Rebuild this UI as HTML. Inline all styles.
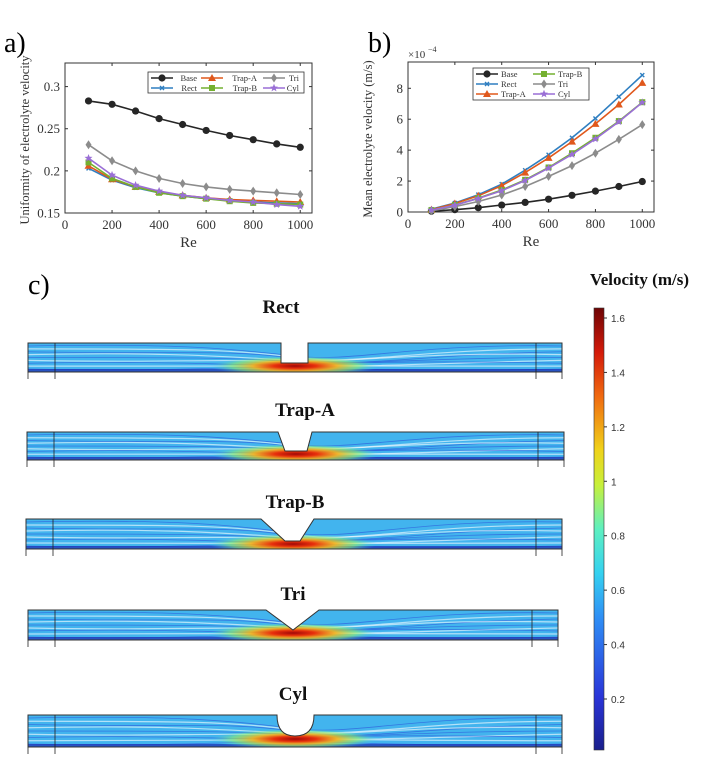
<!DOCTYPE html>
<html><head><meta charset="utf-8">
<style>
html,body{margin:0;padding:0;background:#fff;}
body{width:702px;height:770px;overflow:hidden;position:relative;font-family:"Liberation Serif",serif;}
svg{position:absolute;left:0;top:0;}
</style></head>
<body>
<svg id="root" width="702" height="770" viewBox="0 0 702 770" xmlns="http://www.w3.org/2000/svg">
<defs>
<linearGradient id="jet" x1="0" y1="1" x2="0" y2="0">
<stop offset="0" stop-color="#1a1f8c"/><stop offset="0.12" stop-color="#2a35d8"/>
<stop offset="0.3" stop-color="#2f8ff5"/><stop offset="0.4" stop-color="#35d1f0"/>
<stop offset="0.5" stop-color="#5ef0c0"/><stop offset="0.6" stop-color="#c8f03a"/>
<stop offset="0.68" stop-color="#f0d21a"/><stop offset="0.8" stop-color="#f06a10"/>
<stop offset="0.9" stop-color="#d41a0a"/><stop offset="1" stop-color="#6e0505"/>
</linearGradient>
<radialGradient id="hot">
<stop offset="0" stop-color="#a00808"/><stop offset="0.25" stop-color="#e8300c"/>
<stop offset="0.5" stop-color="#f5b21a" stop-opacity="0.9"/><stop offset="0.75" stop-color="#8ef06a" stop-opacity="0.6"/>
<stop offset="1" stop-color="#40c8f0" stop-opacity="0"/>
</radialGradient>
</defs>
<text x="4" y="52" font-size="28">a)</text>
<text x="368" y="52" font-size="28">b)</text>
<text x="28" y="294" font-size="28">c)</text>
<g id="chartA"></g>
<g id="chartB"></g>
<g id="panels"></g>
<g id="cbar"></g>
</svg>
<script>
const NS="http://www.w3.org/2000/svg";
const reValues=[100,200,300,400,500,600,700,800,900,1000];
const xTicks=[0,200,400,600,800,1000];
const seriesNames=["Base","Rect","Trap-A","Trap-B","Tri","Cyl"];
const seriesColors=["#262626","#2f7fc1","#e0581c","#74b030","#8c8c8c","#9a6fd6"];
const uniBase=[.283,.279,.271,.262,.255,.248,.242,.237,.232,.228];
const uniRect=[.203,.189,.180,.174,.170,.167,.165,.163,.162,.161];
const uniTrapA=[.206,.190,.181,.175,.171,.168,.166,.165,.164,.163];
const uniTrapB=[.210,.191,.181,.174,.170,.167,.164,.162,.161,.160];
const uniTri=[.231,.212,.200,.191,.185,.181,.178,.176,.174,.172];
const uniCyl=[.215,.195,.183,.176,.171,.168,.165,.163,.160,.158];
const uniTicks=[0.15,0.2,0.25,0.3];
const velBase=[0.05,0.15,0.28,0.45,0.62,0.83,1.08,1.35,1.65,1.97];
const velRect=[0.18,0.58,1.12,1.8,2.7,3.7,4.8,6.05,7.45,8.85];
const velTrapA=[0.15,0.55,1.05,1.7,2.55,3.5,4.55,5.7,6.95,8.35];
const velTrapB=[0.12,0.45,0.9,1.42,2.08,2.88,3.8,4.8,5.88,7.1];
const velTri=[0.08,0.35,0.68,1.1,1.65,2.3,3.0,3.8,4.7,5.65];
const velCyl=[0.12,0.44,0.87,1.38,2.04,2.84,3.72,4.72,5.84,7.08];
const velTicks=[0,2,4,6,8];
const cbTicks=[0.2,0.4,0.6,0.8,1,1.2,1.4,1.6];

function el(tag,attrs,parent,text){const e=document.createElementNS(NS,tag);for(const k in attrs)e.setAttribute(k,attrs[k]);if(text!==undefined)e.textContent=text;parent.appendChild(e);return e;}

function marker(g,type,x,y,c){
  let m;
  if(type==="Base") m=el("circle",{cx:x,cy:y,r:3.6,fill:c},g);
  else if(type==="Rect") m=el("path",{d:`M${x-2},${y-2}L${x+2},${y+2}M${x-2},${y+2}L${x+2},${y-2}`,stroke:c,"stroke-width":1.4},g);
  else if(type==="Trap-A") m=el("polygon",{points:`${x},${y-4} ${x+4},${y+3} ${x-4},${y+3}`,fill:c},g);
  else if(type==="Trap-B") m=el("rect",{x:x-3,y:y-3,width:6,height:6,fill:c},g);
  else if(type==="Tri") m=el("polygon",{points:`${x},${y-4.5} ${x+3},${y} ${x},${y+4.5} ${x-3},${y}`,fill:c},g);
  else {let p=[];for(let i=0;i<10;i++){const r=i%2?1.8:4.2,a=-Math.PI/2+i*Math.PI/5;p.push((x+r*Math.cos(a)).toFixed(1)+","+(y+r*Math.sin(a)).toFixed(1));}m=el("polygon",{points:p.join(" "),fill:c},g);}
  
  
}

function chart(g,box,ymin,ymax,yTicks,yFmt,data,ytitle){
  const sx=v=>box.l+(v/1050)*(box.r-box.l);
  const sy=v=>box.b-(v-ymin)/(ymax-ymin)*(box.b-box.t);
  const frame=el("rect",{x:box.l,y:box.t,width:box.r-box.l,height:box.b-box.t,fill:"none",stroke:"#333","stroke-width":1},g);
  
  xTicks.forEach(t=>{const x=sx(t);
    el("line",{x1:x,y1:box.b,x2:x,y2:box.b-3,stroke:"#333"},g);
    el("line",{x1:x,y1:box.t,x2:x,y2:box.t+3,stroke:"#333"},g);
    const tx=el("text",{x:x,y:box.b+16,"font-size":13,"text-anchor":"middle",fill:"#333"},g,String(t));
    });
  yTicks.forEach(t=>{const y=sy(t);
    el("line",{x1:box.l,y1:y,x2:box.l+3,y2:y,stroke:"#333"},g);
    el("line",{x1:box.r,y1:y,x2:box.r-3,y2:y,stroke:"#333"},g);
    const tx=el("text",{x:box.l-5,y:y+4.5,"font-size":13,"text-anchor":"end",fill:"#333"},g,yFmt(t));
    });
  const xt=el("text",{x:(box.l+box.r)/2,y:box.b+34,"font-size":15,"text-anchor":"middle",fill:"#333"},g,"Re");
  
  const yt=el("text",{x:0,y:0,"font-size":12.5,"text-anchor":"middle",fill:"#333",transform:`translate(${box.l-36},${(box.t+box.b)/2+2}) rotate(-90)`},g,ytitle);
  
  data.forEach((s,i)=>{
    const name=seriesNames[i],c=seriesColors[i];
    const sg=el("g",{},g);
    
    const pts=reValues.map((r,j)=>sx(r).toFixed(1)+","+sy(s[j]).toFixed(1)).join(" ");
    el("polyline",{points:pts,fill:"none",stroke:c,"stroke-width":1.6},sg);
    reValues.forEach((r,j)=>marker(sg,name,sx(r),sy(s[j]),c));
  });
  return {sx,sy};
}

const A=document.getElementById("chartA");
chart(A,{l:65,r:312,t:63,b:213},0.15,0.328,uniTicks,t=>String(t),[uniBase,uniRect,uniTrapA,uniTrapB,uniTri,uniCyl],"Uniformity of electrolyte velocity");
(function(){
  const lg=el("g",{},A);
  el("rect",{x:148,y:72,width:156,height:21,fill:"#fff",stroke:"#333","stroke-width":0.8},lg);
  const order=[[0,2,4],[1,3,5]];const colx=[151,201,263];const colw=[46,56,36];
  order.forEach((row,ri)=>row.forEach((si,ci)=>{
    const y=78+ri*10,x=colx[ci],c=seriesColors[si];
    const e=el("g",{},lg);
    el("line",{x1:x,y1:y,x2:x+22,y2:y,stroke:c,"stroke-width":1.5},e);
    marker(e,seriesNames[si],x+11,y,c);
    el("text",{x:x+colw[ci],y:y+3,"font-size":8.5,"text-anchor":"end",fill:"#333"},e,seriesNames[si]);
  }));
})();

const B=document.getElementById("chartB");
chart(B,{l:408,r:654,t:62,b:212},0,9.7,velTicks,t=>String(t),[velBase,velRect,velTrapA,velTrapB,velTri,velCyl],"Mean electrolyte velocity (m/s)");
(function(){
  const t=el("text",{x:408,y:58,"font-size":11,fill:"#333"},B,"×10");
  
  el("text",{x:428,y:52,"font-size":8,fill:"#333"},B,"−4");
  const lg=el("g",{},B);
  el("rect",{x:473,y:68,width:116,height:32,fill:"#fff",stroke:"#333","stroke-width":0.8},lg);
  const order=[[0,3],[1,4],[2,5]];
  order.forEach((row,ri)=>row.forEach((si,ci)=>{
    const y=74+ri*10,x=476+ci*57,c=seriesColors[si];
    const e=el("g",{},lg);
    el("line",{x1:x,y1:y,x2:x+22,y2:y,stroke:c,"stroke-width":1.5},e);
    marker(e,seriesNames[si],x+11,y,c);
    el("text",{x:x+25,y:y+3,"font-size":8.5,fill:"#333"},e,seriesNames[si]);
  }));
})();

const P=document.getElementById("panels");
const panelDefs=[
 {name:"Rect",tx:281,ty:313,x0:28,x1:562,y0:343,y1:372,notch:(x0,y0)=>`L281,${y0} L281,363 L308,363 L308,${y0}`,hx:295,hy:366},
 {name:"Trap-A",tx:305,ty:416,x0:27,x1:564,y0:432,y1:460,notch:(x0,y0)=>`L278,${y0} L285,451 L307,451 L312,${y0}`,hx:296,hy:454},
 {name:"Trap-B",tx:295,ty:508,x0:26,x1:562,y0:519,y1:549,notch:(x0,y0)=>`L261,${y0} L285,541 L300,541 L314,${y0}`,hx:293,hy:544},
 {name:"Tri",tx:293,ty:600,x0:28,x1:558,y0:610,y1:640,notch:(x0,y0)=>`L266,${y0} L293,630 L319,${y0}`,hx:293,hy:633},
 {name:"Cyl",tx:293,ty:700,x0:28,x1:562,y0:715,y1:747,notch:(x0,y0)=>`L277,${y0} Q277,736 295,736 Q314,736 314,${y0}`,hx:295,hy:739}
];
panelDefs.forEach(p=>{
  const g=el("g",{},P);
  const t=el("text",{x:p.tx,y:p.ty,"font-size":19,"font-weight":"bold","text-anchor":"middle",fill:"#111"},g,p.name);
  
  const outline=`M${p.x0},${p.y0} ${p.notch(p.x0,p.y0)} L${p.x1},${p.y0} L${p.x1},${p.y1} L${p.x0},${p.y1} Z`;
  const cid="clip"+p.name;
  const cp=el("clipPath",{id:cid},g);el("path",{d:outline},cp);
  const inner=el("g",{"clip-path":`url(#${cid})`},g);
  el("rect",{x:p.x0,y:p.y0,width:p.x1-p.x0,height:p.y1-p.y0,fill:"#42b4ee"},inner);
  const h=p.y1-p.y0;
  for(let k=0;k<9;k++){
    const yy=p.y0+3+k*(h-6)/8;
    const dy=(k%3-1)*3;
    el("path",{d:`M${p.x0},${yy} C${p.x0+150},${yy+dy} ${p.hx-60},${yy-dy} ${p.hx},${(yy+p.hy)/2} S${p.x1-150},${yy+dy} ${p.x1},${yy}`,fill:"none",stroke:k%2?"#ffffff":"#2c4fd8","stroke-width":k%2?1.2:0.8,opacity:0.6},inner);
  }
  el("rect",{x:p.x0,y:p.y1-3,width:p.x1-p.x0,height:3,fill:"#1e2ab0",opacity:0.7},inner);
  el("ellipse",{cx:p.hx,cy:p.hy,rx:85,ry:10,fill:"url(#hot)"},inner);
  el("path",{d:outline,fill:"none",stroke:"#333","stroke-width":1},g);
  el("line",{x1:p.x0+27,y1:p.y0,x2:p.x0+27,y2:p.y1+7,stroke:"#222","stroke-width":0.8},g);
  el("line",{x1:p.x1-26,y1:p.y0,x2:p.x1-26,y2:p.y1+7,stroke:"#222","stroke-width":0.8},g);
  el("line",{x1:p.x0,y1:p.y1,x2:p.x0,y2:p.y1+7,stroke:"#222","stroke-width":0.8},g);
  el("line",{x1:p.x1,y1:p.y1,x2:p.x1,y2:p.y1+7,stroke:"#222","stroke-width":0.8},g);
});

const C=document.getElementById("cbar");
(function(){
  const t=el("text",{x:590,y:285,"font-size":17,"font-weight":"bold",fill:"#111"},C,"Velocity (m/s)");
  
  const r=el("rect",{x:594,y:308,width:10,height:442,fill:"url(#jet)",stroke:"#333","stroke-width":0.6},C);
  
  const cy=v=>318+(1.6-v)/1.4*(699-318);
  cbTicks.forEach(v=>{const y=cy(v);
    el("line",{x1:604,y1:y,x2:607,y2:y,stroke:"#333"},C);
    const tx=el("text",{x:611,y:y+4,"font-size":10,"font-family":"Liberation Sans, sans-serif",fill:"#333"},C,String(v));
    });
})();
</script>
</body></html>
